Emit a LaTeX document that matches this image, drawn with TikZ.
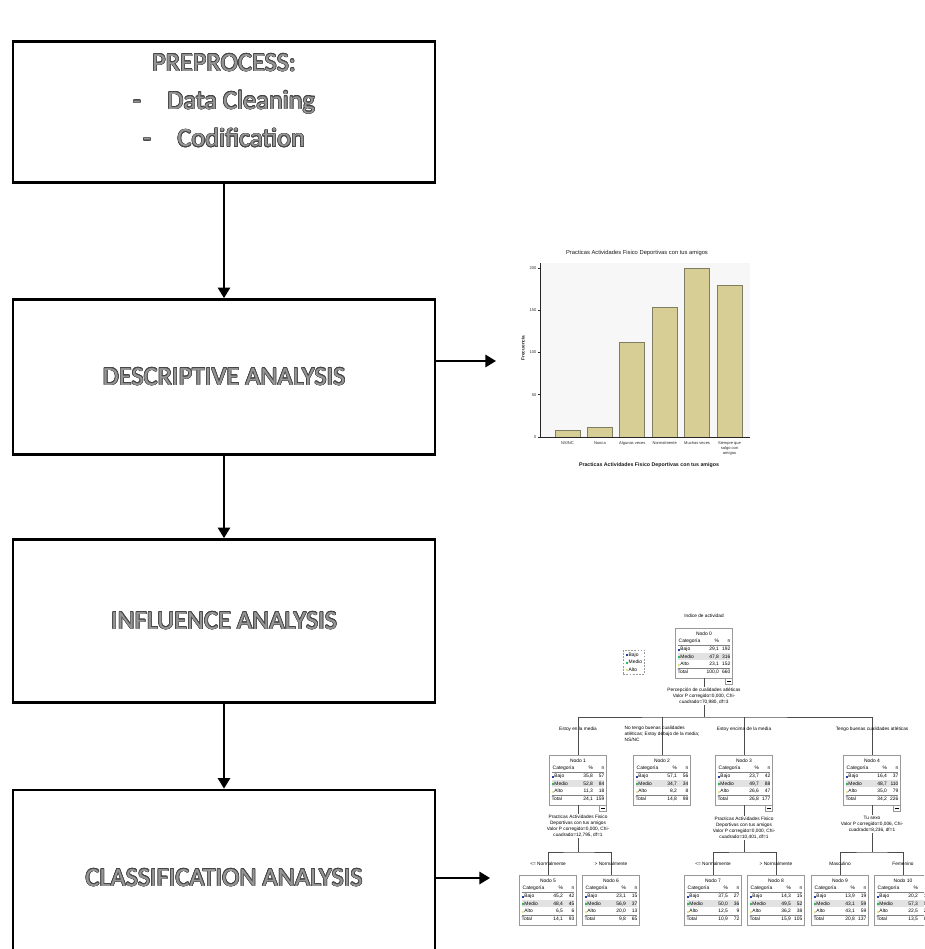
\documentclass[tikz,border=0pt]{standalone}
\usepackage{fontspec}
\setmainfont{Carlito}
\newfontfamily\spss{Liberation Sans}
\usepackage{array}
\usepackage{colortbl}
\usepackage{contour}
\usetikzlibrary{positioning,arrows.meta}

\definecolor{barfill}{RGB}{214,206,148}
\definecolor{baredge}{RGB}{128,126,98}
\definecolor{bajoc}{RGB}{40,60,170}
\definecolor{medioc}{RGB}{40,190,90}
\definecolor{altoc}{RGB}{230,230,120}
\definecolor{rowgray}{RGB}{226,226,226}
\definecolor{txtfill}{RGB}{150,150,150}
\definecolor{txtline}{RGB}{70,70,70}

\contourlength{0.35pt}
\newcommand\outl[1]{\contour{txtline}{\textcolor{txtfill}{#1}}}
\newcommand\mk[1]{\textcolor{#1}{\rule{1.1pt}{1.1pt}}\hspace{0.5pt}}
% one node of the classification tree
\newcommand\nodotab[9]{%
  \setlength\tabcolsep{0pt}\arrayrulecolor{gray}\setlength\arrayrulewidth{0.25pt}%
  \begin{tabular}{p{13.5pt}>{\raggedleft\arraybackslash}p{10pt}>{\raggedleft\arraybackslash}p{6.5pt}}
  \multicolumn{3}{c}{Nodo #1}\\
  \multicolumn{1}{c}{Categoría} & \% & n\\ \hline
  \mk{bajoc}Bajo & #2 & #3\\
  \rowcolor{rowgray}\mk{medioc}Medio & #4 & #5\\
  \mk{altoc}Alto & #6 & #7\\ \hline
  Total & #8 & #9
  \end{tabular}}

\tikzset{
  stage/.style={draw, line width=1.6pt, minimum width=8.44cm, inner sep=0pt,
    align=center, font=\fontsize{15}{21.5}\selectfont},
  flow/.style={line width=1.1pt, -{Triangle[length=6pt,width=7pt]}},
  tnode/.style={draw=gray!80, line width=0.35pt, minimum width=1.14cm, minimum height=1cm,
    inner sep=0.3pt, font=\spss\fontsize{2.8}{4.2}\selectfont},
  tlabel/.style={font=\spss\fontsize{2.7}{3.5}\selectfont, align=center, inner sep=0.5pt},
  tedge/.style={draw=gray!60!black, line width=0.35pt},
  collapse/.style={draw=gray!80, line width=0.3pt, inner sep=0pt, minimum width=4pt,
    minimum height=3pt, anchor=north east},
  bar/.style={fill=barfill, draw=baredge, line width=0.4pt},
  axis/.style={draw=gray!30!black, line width=0.35pt},
  ticklab/.style={font=\spss\fontsize{2.3}{2.7}\selectfont, inner sep=0.8pt, text=gray!30!black},
}

\begin{document}
\begin{tikzpicture}[x=0.02cm, y=-0.02cm]
\useasboundingbox (0,0) rectangle (924,949);
\clip (0,0) rectangle (924,949);

% steps of the analysis
\node[stage, minimum height=2.82cm] (pre) at (224,112) {};
\node[stage, draw=none, minimum width=0pt] (pretext) at (224,101)
  {\outl{PREPROCESS:}\\\outl{-\quad Data Cleaning}\\\outl{-\quad Codification}};
\node[stage, minimum height=3.1cm] (desc) at (224,377) {\outl{DESCRIPTIVE ANALYSIS}};
\node[stage, minimum height=3.26cm] (infl) at (224,621) {\outl{INFLUENCE ANALYSIS}};
\node[stage, minimum height=3.52cm] (clas) at (224,878) {\outl{CLASSIFICATION ANALYSIS}};

\draw[flow] (pre.south) -- (desc.north);
\draw[flow] (desc.south) -- (infl.north);
\draw[flow] (infl.south) -- (clas.north);

\coordinate (chartin) at (496,361);
\coordinate (treein) at (490,878);
\draw[flow] (desc.east |- chartin) -- (chartin);
\draw[flow] (clas.east |- treein) -- (treein);

% bar chart
\node[font=\spss\fontsize{3.3}{4}\selectfont, text=gray!20!black] (charttitle) at (637,253)
  {Practicas Actividades Fisico Deportivas con tus amigos};
\fill[gray!6] (540,263) rectangle (750,437);
\foreach \v [count=\i from 0] in {8,12,112,153,200,179}
  \filldraw[bar] ({555+32.4*\i},437) rectangle ++(25,{-0.845*\v});
\draw[axis] (540,263) -- (540,437) -- (750,437);
\foreach \t in {0,50,100,150,200}
  \draw[axis] (540,{437-0.845*\t}) -- ++(-2,0) node[ticklab, left] {\t};
\foreach \lab [count=\i from 0] in {NS/NC,Nunca,Algunas veces,Normalmente,Muchas veces,{Siempre que\\salgo con\\amigos}}
  \node[ticklab, anchor=north, align=center] at ({567.5+32.4*\i},440) {\lab};
\node[ticklab, font=\spss\bfseries\fontsize{2.7}{3}\selectfont, rotate=90] (ylab) at (523,348) {Frecuencia};
\node[font=\spss\bfseries\fontsize{3}{3.5}\selectfont, text=gray!20!black] (xlab) at (649,465)
  {Practicas Actividades Fisico Deportivas con tus amigos};

% classification tree
\node[tlabel] (title0) at (704,616) {Indice de actividad};
\node[tnode] (n0) at (704,653) {\nodotab{0}{29,1}{192}{47,8}{316}{23,1}{152}{100,0}{660}};
\node[tnode, dashed, dash pattern=on 1pt off 0.8pt, minimum width=0pt, minimum height=0pt,
  align=left, inner sep=1.5pt] (legend) at (634,662)
  {\mk{bajoc}Bajo\\\mk{medioc}Medio\\\mk{altoc}Alto};
\node[tlabel] (s0) at (704,696) {Percepción de cualidades atléticas\\Valor P corregido=0,000, Chi-\\cuadrado=70,980, df=3};
\coordinate (bus0) at (704,717);

\node[tnode] (n1) at (578,780) {\nodotab{1}{35,8}{57}{52,8}{84}{11,3}{18}{24,1}{159}};
\node[tnode] (n2) at (662,780) {\nodotab{2}{57,1}{56}{34,7}{34}{8,2}{8}{14,8}{98}};
\node[tnode] (n3) at (744,780) {\nodotab{3}{23,7}{42}{49,7}{88}{26,6}{47}{26,8}{177}};
\node[tnode] (n4) at (872,780) {\nodotab{4}{16,4}{37}{48,7}{110}{35,0}{79}{34,2}{226}};

\draw[tedge] (n0.south) -- (s0.north);
\draw[tedge] (s0.south) -- (bus0);
\draw[tedge] (n1.north) |- (bus0) -| (n4.north);
\draw[tedge] (n2.north) -- (n2.north |- bus0);
\draw[tedge] (n3.north) -- (n3.north |- bus0);

\node[tlabel] (b1) at (578,729) {Estoy en la media};
\node[tlabel, align=left, anchor=north] (b2) at (662,725) {No tengo buenas cualidades\\atléticas; Estoy debajo de la media;\\NS/NC};
\node[tlabel] (b3) at (744,729) {Estoy encima de la media};
\node[tlabel] (b4) at (872,729) {Tengo buenas cualidades atléticas};

\node[tlabel] (s1) at (578,826) {Practicas Actividades Fisico\\Deportivas con tus amigos\\Valor P corregido=0,000, Chi-\\cuadrado=12,795, df=1};
\node[tlabel] (s3) at (744,828) {Practicas Actividades Fisico\\Deportivas con tus amigos\\Valor P corregido=0,000, Chi-\\cuadrado=10,401, df=1};
\node[tlabel] (s4) at (872,824) {Tu sexo\\Valor P corregido=0,006, Chi-\\cuadrado=8,236, df=1};
\coordinate (bus1) at (578,852);
\coordinate (bus3) at (744,852);
\coordinate (bus4) at (872,852);

\node[tnode] (n5) at (548,900) {\nodotab{5}{45,2}{42}{48,4}{45}{6,5}{6}{14,1}{93}};
\node[tnode] (n6) at (611,900) {\nodotab{6}{23,1}{15}{56,9}{37}{20,0}{13}{9,8}{65}};
\node[tnode] (n7) at (713,900) {\nodotab{7}{37,5}{27}{50,0}{36}{12,5}{9}{10,9}{72}};
\node[tnode] (n8) at (776,900) {\nodotab{8}{14,3}{15}{49,5}{52}{36,2}{38}{15,9}{105}};
\node[tnode] (n9) at (840,900) {\nodotab{9}{13,9}{19}{43,1}{59}{43,1}{59}{20,8}{137}};
\node[tnode] (n10) at (903,900) {\nodotab{10}{20,2}{18}{57,3}{51}{22,5}{20}{13,5}{89}};

\foreach \p/\s/\b/\l/\r in {n1/s1/bus1/n5/n6, n3/s3/bus3/n7/n8, n4/s4/bus4/n9/n10} {
  \node[collapse] at (\p.south east) {\rule{2.4pt}{0.25pt}};
  \draw[tedge] (\p.south) -- (\s.north);
  \draw[tedge] (\s.south) -- (\b);
  \draw[tedge] (\l.north) |- (\b) -| (\r.north);
}
\node[collapse] at (n0.south east) {\rule{2.4pt}{0.25pt}};

\node[tlabel] (c5) at (548,864) {<= Normalmente};
\node[tlabel] (c6) at (611,864) {> Normalmente};
\node[tlabel] (c7) at (713,864) {<= Normalmente};
\node[tlabel] (c8) at (776,864) {> Normalmente};
\node[tlabel] (c9) at (840,864) {Masculino};
\node[tlabel] (c10) at (903,864) {Femenino};
\end{tikzpicture}
\end{document}
